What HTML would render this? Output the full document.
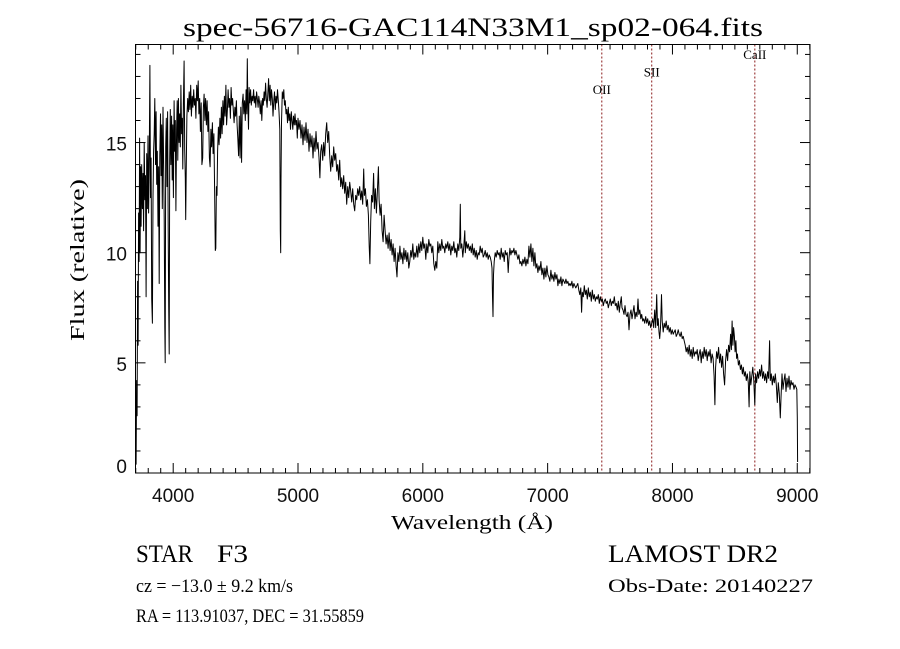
<!DOCTYPE html>
<html><head><meta charset="utf-8"><style>
html,body{margin:0;padding:0;background:#fff;}
svg{display:block;}
text{font-family:"Liberation Serif",serif;fill:#000;}
.tick{font-family:"Liberation Sans",sans-serif;font-size:19px;fill:#111;}
</style></head><body>
<svg id="chart" width="900" height="649" viewBox="0 0 900 649" xmlns="http://www.w3.org/2000/svg">
<rect width="900" height="649" fill="#fff"/>
<text x="183" y="36" font-size="26" textLength="580" lengthAdjust="spacingAndGlyphs">spec-56716-GAC114N33M1_sp02-064.fits</text>
<g id="ticks"></g>
<g id="lines"></g>
<path id="spec" fill="none" stroke="#000" stroke-width="1" stroke-linejoin="round"/>
<rect x="135.5" y="44.5" width="674.5" height="428.5" fill="none" stroke="#000" stroke-width="1"/>
<text x="391" y="529" font-size="20" textLength="162" lengthAdjust="spacingAndGlyphs">Wavelength (Å)</text>
<text transform="translate(84,341) rotate(-90)" font-size="20" textLength="162" lengthAdjust="spacingAndGlyphs">Flux (relative)</text>
<text x="136" y="562" font-size="25" textLength="57" lengthAdjust="spacingAndGlyphs">STAR</text>
<text x="217" y="562" font-size="25" textLength="31" lengthAdjust="spacingAndGlyphs">F3</text>
<text x="608" y="562" font-size="25" textLength="170" lengthAdjust="spacingAndGlyphs">LAMOST DR2</text>
<text x="136" y="592" font-size="19" textLength="157" lengthAdjust="spacingAndGlyphs">cz = −13.0 ± 9.2 km/s</text>
<text x="608" y="592" font-size="19" textLength="205" lengthAdjust="spacingAndGlyphs">Obs-Date: 20140227</text>
<text x="136" y="622" font-size="19" textLength="228" lengthAdjust="spacingAndGlyphs">RA = 113.91037, DEC =  31.55859</text>
</svg>
<script>
const wavelengths = [
3700,3703,3707,3711,3715,3719,3723,3727,3731,3735,
3739,3743,3748,3753,3758,3763,3768,3773,3778,3783,
3788,3793,3798,3803,3808,3813,3818,3823,3828,3833,
3838,3843,3848,3853,3858,3863,3868,3873,3878,3883,
3888,3893,3898,3903,3908,3913,3918,3923,3928,3933,
3936,3940,3945,3950,3955,3960,3964,3968,3972,3977,
3982,3987,3992,3997,4002,4007,4012,4017,4022,4027,
4032,4037,4042,4047,4052,4057,4062,4067,4072,4077,
4082,4087,4092,4097,4100,4105,4110,4116,4122,4128,
4134,4140,4146,4152,4158,4164,4170,4176,4182,4188,
4194,4200,4206,4212,4218,4224,4230,4236,4242,4248,
4254,4260,4266,4272,4278,4284,4290,4296,4302,4308,
4314,4320,4326,4332,4337,4341,4346,4351,4356,4362,
4368,4374,4380,4386,4392,4398,4404,4410,4416,4422,
4428,4434,4440,4446,4452,4458,4464,4470,4476,4482,
4488,4494,4500,4506,4512,4518,4524,4530,4536,4542,
4548,4554,4560,4566,4572,4578,4584,4590,4594,4598,
4603,4608,4614,4620,4626,4632,4638,4644,4650,4656,
4662,4668,4674,4680,4686,4692,4698,4704,4710,4716,
4722,4728,4734,4740,4746,4752,4758,4764,4770,4776,
4782,4788,4794,4800,4806,4812,4818,4824,4830,4836,
4842,4848,4854,4858,4861,4864,4868,4874,4880,4886,
4892,4898,4904,4910,4916,4922,4928,4934,4940,4946,
4952,4958,4964,4970,4976,4982,4988,4994,5000,5008,
5016,5024,5032,5040,5048,5056,5064,5072,5080,5088,
5096,5104,5112,5120,5128,5136,5144,5152,5160,5168,
5175,5182,5190,5198,5206,5214,5222,5230,5238,5246,
5254,5262,5270,5278,5286,5294,5302,5310,5318,5326,
5334,5342,5350,5358,5366,5374,5382,5390,5398,5406,
5414,5422,5430,5438,5446,5454,5462,5470,5478,5486,
5494,5502,5510,5518,5526,5532,5540,5548,5556,5564,
5570,5576,5582,5590,5598,5606,5612,5620,5628,5636,
5644,5650,5658,5666,5674,5682,5690,5698,5706,5714,
5722,5730,5738,5746,5754,5762,5770,5778,5786,5793,
5800,5808,5816,5824,5832,5840,5848,5856,5864,5872,
5880,5888,5896,5904,5912,5920,5928,5936,5944,5952,
5960,5968,5976,5984,5992,6000,6008,6016,6024,6032,
6040,6048,6056,6064,6072,6080,6088,6096,6104,6112,
6120,6128,6136,6144,6152,6160,6168,6176,6184,6192,
6200,6208,6216,6224,6232,6240,6248,6256,6264,6272,
6280,6288,6296,6300,6304,6312,6320,6328,6336,6340,
6348,6356,6364,6372,6380,6388,6396,6404,6412,6420,
6428,6436,6444,6452,6460,6468,6476,6484,6492,6500,
6508,6516,6524,6532,6540,6548,6554,6558,6562,6566,
6572,6580,6588,6596,6604,6612,6620,6628,6636,6644,
6652,6660,6668,6676,6684,6690,6698,6706,6714,6722,
6730,6738,6746,6754,6762,6770,6778,6786,6794,6802,
6810,6818,6826,6834,6842,6850,6858,6866,6874,6882,
6890,6898,6906,6914,6922,6930,6938,6946,6954,6962,
6970,6978,6986,6994,7002,7010,7018,7026,7034,7042,
7050,7058,7066,7074,7082,7090,7098,7106,7114,7122,
7130,7138,7146,7154,7162,7170,7178,7186,7194,7202,
7210,7218,7226,7234,7242,7250,7258,7266,7272,7278,
7286,7294,7302,7310,7318,7326,7334,7342,7350,7358,
7366,7374,7382,7390,7398,7406,7414,7422,7430,7438,
7446,7454,7462,7470,7478,7486,7494,7502,7510,7518,
7526,7534,7542,7550,7558,7566,7574,7582,7590,7596,
7604,7612,7620,7628,7636,7644,7652,7660,7668,7676,
7684,7692,7700,7708,7716,7724,7730,7738,7746,7754,
7762,7770,7778,7786,7794,7802,7810,7818,7826,7834,
7842,7850,7858,7866,7874,7880,7886,7892,7898,7904,
7912,7918,7926,7934,7942,7950,7958,7966,7974,7982,
7990,7998,8006,8014,8022,8030,8038,8046,8054,8062,
8070,8078,8086,8094,8102,8110,8118,8126,8134,8142,
8150,8158,8166,8174,8182,8190,8198,8206,8214,8222,
8230,8238,8246,8254,8262,8270,8278,8286,8294,8302,
8310,8318,8326,8334,8340,8346,8354,8362,8370,8378,
8386,8394,8402,8410,8418,8426,8434,8442,8450,8458,
8466,8472,8478,8484,8490,8496,8502,8508,8514,8520,
8528,8536,8544,8552,8560,8568,8576,8584,8592,8600,
8608,8614,8620,8628,8636,8644,8652,8660,8666,8674,
8682,8690,8698,8706,8714,8722,8730,8738,8746,8754,
8762,8770,8778,8784,8792,8800,8808,8816,8824,8832,
8840,8848,8856,8864,8870,8878,8886,8894,8902,8910,
8918,8926,8934,8942,8950,8958,8966,8974,8982,8990,
8996,9000,9003];
const fluxes = [
1.0,0.4,4.2,2.6,8.7,5.8,11.8,9.6,15.2,10.0,
13.9,11.2,14.0,12.0,13.6,11.0,15.0,12.4,13.5,8.0,
14.5,12.0,15.3,11.8,13.9,18.5,12.5,14.3,7.9,6.8,
12.5,14.6,15.4,17.0,14.0,16.4,13.1,14.6,11.2,13.9,
8.6,14.4,16.3,13.5,15.8,12.0,16.6,14.2,11.6,6.6,
5.0,14.8,16.1,13.0,16.4,11.0,7.6,5.4,14.2,16.5,
14.0,16.2,13.3,15.8,12.5,16.9,14.6,16.0,11.9,15.6,
16.9,14.2,17.0,15.0,16.3,14.8,17.6,15.4,16.1,13.8,
16.8,18.7,14.7,13.4,11.5,14.0,16.2,17.0,16.4,17.3,
16.5,17.6,16.2,17.1,16.6,17.4,16.7,17.0,16.1,17.6,
16.9,17.8,16.3,17.0,15.5,16.8,14.0,14.3,16.6,17.2,
16.0,17.0,15.8,16.9,15.5,16.4,14.3,13.9,15.6,14.8,
15.9,14.5,15.4,12.9,10.1,10.2,13.0,12.6,14.6,15.7,
14.9,16.1,15.2,16.6,15.4,16.9,15.8,17.1,16.2,17.6,
15.8,16.5,17.4,16.6,17.0,16.1,17.5,16.7,17.0,16.4,
15.9,16.6,16.2,16.9,15.8,15.2,14.4,16.2,14.3,16.6,
14.1,16.8,17.2,16.3,16.9,16.0,17.4,16.3,18.8,16.9,
15.6,17.5,16.8,17.4,16.7,17.1,16.9,17.4,16.8,17.1,
16.6,17.3,17.0,16.6,17.1,16.8,16.3,16.9,16.0,17.0,
16.7,17.3,16.9,17.7,17.0,16.6,17.2,17.9,16.9,17.6,
16.7,17.4,17.0,16.2,16.9,17.3,16.5,17.1,16.8,17.4,
16.9,16.4,15.6,11.0,10.0,13.3,15.9,17.3,17.0,17.4,
16.7,16.9,16.3,16.5,15.9,16.6,16.0,16.3,15.6,16.4,
16.0,15.6,16.2,15.8,16.3,15.8,16.0,15.2,16.1,15.6,
16.0,15.2,15.8,14.9,15.7,15.1,15.9,15.0,15.6,14.6,
15.4,14.8,15.3,14.3,15.2,14.6,15.5,14.7,15.0,14.3,
13.4,14.6,14.9,14.2,15.0,14.4,15.4,15.9,15.0,15.5,
14.4,13.7,14.4,13.9,14.8,14.2,14.5,13.7,14.0,13.3,
14.2,13.0,13.4,12.9,13.5,12.7,13.2,12.2,13.0,12.5,
13.2,12.8,12.3,12.9,12.2,11.9,12.6,12.4,12.9,12.6,
13.0,12.4,12.8,12.2,13.8,12.6,12.9,12.1,12.4,11.7,
10.3,9.5,11.4,12.6,12.3,13.6,12.0,12.9,11.8,12.8,
13.9,12.4,11.7,12.2,11.0,10.5,11.7,11.0,10.4,10.8,
10.2,10.9,10.1,10.6,9.9,10.4,9.6,10.2,9.4,8.9,
10.0,9.6,10.3,9.7,10.0,9.5,10.2,9.7,10.1,9.6,
10.0,9.3,9.6,10.1,9.8,10.4,9.7,10.0,9.8,10.3,
9.8,10.4,10.0,10.5,10.1,10.7,10.2,10.4,9.7,10.4,
10.0,10.6,10.3,10.4,10.0,10.3,9.5,9.2,9.6,9.3,
10.5,10.0,10.4,10.1,10.6,10.2,10.3,10.0,10.4,10.2,
10.5,10.1,10.4,9.9,10.3,10.1,10.5,10.0,10.2,9.8,
10.4,10.1,10.7,12.2,10.2,10.4,9.8,10.3,11.0,10.0,
10.5,10.2,10.4,10.1,10.3,10.0,10.4,9.9,10.2,9.8,
10.1,9.7,10.0,9.9,10.3,10.0,10.2,9.8,9.9,10.1,
9.8,10.0,9.7,9.9,9.8,9.6,9.3,8.0,7.1,9.0,
9.6,10.0,9.8,10.1,9.9,10.0,9.7,10.2,9.8,10.0,
9.6,10.1,9.9,10.0,9.1,9.7,10.2,9.9,10.1,10.0,
10.2,9.9,10.1,9.9,9.7,9.9,9.5,9.6,9.4,9.7,
9.5,9.8,9.4,9.7,9.5,10.3,9.8,10.4,9.6,10.2,
9.4,10.0,9.3,9.5,9.1,9.4,9.2,9.6,9.0,9.3,
8.8,9.3,8.9,9.4,9.0,8.9,8.7,9.2,8.8,9.0,
8.7,9.1,8.8,9.0,8.5,8.8,8.6,8.9,8.5,8.8,
8.7,8.6,8.8,8.6,8.7,8.5,8.6,8.5,8.7,8.4,
8.6,8.5,8.4,8.5,8.6,8.3,8.1,8.4,7.3,8.2,
8.0,8.5,8.1,8.3,7.9,8.4,8.0,8.2,7.8,8.3,
7.9,8.1,7.8,8.0,7.9,8.1,7.7,8.0,7.8,7.9,
7.6,7.8,7.9,7.7,7.8,7.5,7.7,7.9,7.6,7.8,
7.7,8.0,7.6,7.7,7.4,7.8,7.3,7.7,8.0,7.5,
7.4,7.2,7.6,7.2,7.1,7.3,6.5,7.2,7.4,7.0,
7.3,7.6,7.0,7.3,7.1,7.9,7.2,7.4,7.0,7.2,
6.9,7.0,6.8,7.1,6.8,7.0,6.7,6.9,6.6,6.8,
7.0,6.6,7.4,6.6,8.1,6.7,7.0,6.4,6.1,6.6,
8.1,6.9,6.4,6.8,6.6,6.9,6.5,6.7,6.4,6.6,
6.3,6.5,6.3,6.4,6.5,6.2,6.3,6.5,6.3,6.2,
6.4,6.1,6.2,6.0,5.8,5.5,5.7,5.4,5.8,5.3,
5.6,5.2,5.7,5.3,5.5,5.4,5.6,5.1,5.4,5.6,
5.0,5.5,5.2,5.7,5.3,5.6,5.1,5.5,5.3,5.6,
5.0,5.4,5.2,4.4,3.1,4.8,5.5,5.2,5.7,5.0,
5.4,4.8,5.3,4.5,4.0,5.1,5.6,5.1,5.8,5.5,
6.3,5.6,6.9,5.8,6.6,6.2,5.5,6.0,5.2,5.4,
4.9,5.1,4.7,4.9,4.5,4.8,4.4,4.6,4.2,4.5,
4.1,3.0,4.6,4.0,4.4,4.8,4.2,3.1,4.5,4.1,
4.6,4.3,4.7,4.4,4.9,4.3,4.6,4.2,4.5,4.1,
4.6,4.3,6.0,4.2,4.5,4.0,4.4,4.1,4.5,4.0,
3.2,4.1,3.6,2.5,3.4,4.5,3.8,4.2,4.5,3.7,
4.3,3.9,4.4,3.8,4.2,4.0,4.1,3.8,4.0,3.9,
3.8,2.5,0.5];
const lineNames = ["OII","SII","CaII"];
const lineWaves = [7434,7834,8660];
const lineLabelFlux = [17.2,18.0,18.8];
const xTickValues = [4000,5000,6000,7000,8000,9000];
const yTickValues = [0,5,10,15];

const X0=135.5, X1=810, Y0=473, Y1=44.5, WMIN=3698, WMAX=9102, FMIN=0, FMAX=19.45;
function sx(w){return X0+(w-WMIN)/(WMAX-WMIN)*(X1-X0);}
function sy(f){return Y0-(f-FMIN)/(FMAX-FMIN)*(Y0-Y1);}
const NS="http://www.w3.org/2000/svg";
const tg=document.getElementById('ticks');
function mk(tag,attrs,parent){const e=document.createElementNS(NS,tag);for(const k in attrs)e.setAttribute(k,attrs[k]);parent.appendChild(e);return e;}

let d="";
const n=Math.min(wavelengths.length,fluxes.length);
for(let i=0;i<n;i++){d+=(i?"L":"M")+sx(wavelengths[i]).toFixed(1)+","+sy(fluxes[i]).toFixed(1);}
document.getElementById('spec').setAttribute('d',d);

for(let w=3700;w<=9100;w+=100){
  const major=(w%1000===0), L=major?10:5, x=sx(w);
  const t1=mk('line',{x1:x,x2:x,y1:Y0,y2:Y0-L,stroke:'#000','stroke-width':1},tg);
  
  
  const t2=mk('line',{x1:x,x2:x,y1:Y1,y2:Y1+L,stroke:'#000','stroke-width':1},tg);
  
  
}
xTickValues.forEach(v=>{
  const t=mk('text',{x:sx(v),y:502,'text-anchor':'middle',class:'tick'},tg);
  t.textContent=String(v);
  
  
});
for(let f=0;f<=19;f+=1){
  const major=(f%5===0), L=major?10:5, y=sy(f);
  const t1=mk('line',{x1:X0,x2:X0+L,y1:y,y2:y,stroke:'#000','stroke-width':1},tg);
  
  
  const t2=mk('line',{x1:X1,x2:X1-L,y1:y,y2:y,stroke:'#000','stroke-width':1},tg);
  
  
}
yTickValues.forEach(v=>{
  const yy=v===0?sy(v):sy(v)+8;
  const t=mk('text',{x:127,y:yy,'text-anchor':'end',class:'tick'},tg);
  t.textContent=String(v);
  
  
});
const lg=document.getElementById('lines');
lineWaves.forEach((w,i)=>{
  const x=sx(w);
  const l=mk('line',{x1:x,x2:x,y1:sy(FMAX),y2:Y0,stroke:'#8b1a1a','stroke-width':1,'stroke-dasharray':'2,2'},lg);
  
  
  const t=mk('text',{x:x,y:sy(lineLabelFlux[i]),'text-anchor':'middle','font-size':'13'},lg);
  t.textContent=lineNames[i];
  
  
});
</script>
</body></html>
